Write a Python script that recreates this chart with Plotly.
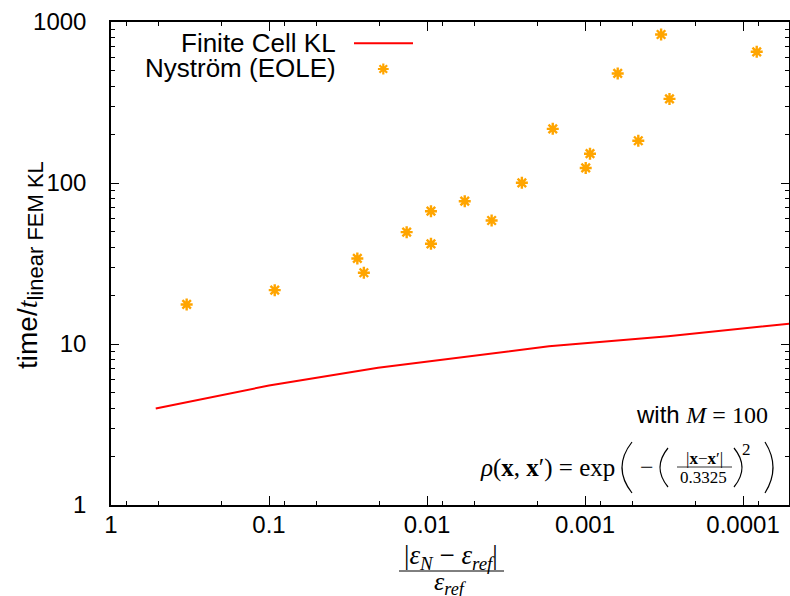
import plotly.graph_objects as go

# ---------------- data ----------------
nystrom_err = [0.332, 0.092, 0.0276, 0.0251, 0.01345, 0.00944, 0.00944, 0.00577, 0.0039,
               0.00251, 0.0016, 0.00099, 0.00093, 0.000621, 0.00046, 0.00033, 0.000292, 8.19e-5]
nystrom_time = [17.6, 21.6, 34.0, 27.7, 49.5, 66.8, 41.9, 77.1, 58.5,
                100.3, 217, 124, 152, 479, 183, 836, 333, 653]

fc_err = [0.521, 0.1, 0.0204, 0.00769, 0.00169, 0.000298, 0.000106, 4.0e-5]
fc_time = [3.98, 5.52, 7.11, 8.01, 9.69, 11.18, 12.43, 13.7]

x_tickvals = [1, 0.1, 0.01, 0.001, 0.0001]
x_ticktext = ["1", "0.1", "0.01", "0.001", "0.0001"]
y_tickvals = [1, 10, 100, 1000]
y_ticktext = ["1", "10", "100", "1000"]
x_minor = [m * 10.0 ** k for k in range(0, -6, -1) for m in (0.8, 0.5, 0.2)]
y_minor = [m * 10.0 ** k for k in range(0, 3) for m in range(2, 10)]

legend_names = ["Finite Cell KL", "Nyström (EOLE)"]

# ---------------- geometry helpers (layout only) ----------------
W, H = 790, 596
L, R, T, B = 111, 1, 22, 91
PW, PH = W - L - R, H - T - B


def px(x):
    return (x - L) / PW


def py(y):
    return (H - B - y) / PH


SANS = "Liberation Sans"
SERIF = "Liberation Serif"
ORANGE = "#FFA500"

fig = go.Figure()

fig.add_trace(go.Scatter(
    x=fc_err, y=fc_time, mode="lines", name=legend_names[0],
    line=dict(color="#FF0000", width=2), showlegend=False))

fig.add_trace(go.Scatter(
    x=nystrom_err, y=nystrom_time, mode="markers", name=legend_names[1],
    marker=dict(symbol="asterisk-open", size=10, color=ORANGE,
                line=dict(color=ORANGE, width=2.4)), showlegend=False))

# legend key marker on an invisible overlay axis
fig.add_trace(go.Scatter(
    x=[px(383.3)], y=[py(69)], xaxis="x2", yaxis="y2", mode="markers",
    marker=dict(symbol="asterisk-open", size=9, color=ORANGE,
                line=dict(color=ORANGE, width=2.2)),
    showlegend=False, hoverinfo="skip"))

axis_common = dict(
    type="log", showgrid=False, zeroline=False, showline=True,
    linecolor="black", linewidth=1.5, mirror="allticks",
    ticks="inside", tickcolor="black", tickwidth=1,
    tickfont=dict(family=SANS, size=24, color="black"),
)

fig.update_layout(
    width=W, height=H,
    margin=dict(l=L, r=R, t=T, b=B, autoexpand=False),
    paper_bgcolor="white", plot_bgcolor="white",
    showlegend=False,
    xaxis=dict(axis_common, range=[0, -4.291], tickmode="array",
               tickvals=x_tickvals, ticktext=x_ticktext, ticklen=9,
               ticklabelstandoff=-3,
               minor=dict(tickmode="array", tickvals=x_minor, ticks="inside",
                          ticklen=4, tickcolor="black", tickwidth=1, showgrid=False)),
    yaxis=dict(axis_common, range=[0, 3], tickmode="array",
               tickvals=y_tickvals, ticktext=y_ticktext, ticklen=8,
               ticklabelstandoff=18,
               minor=dict(tickmode="array", tickvals=y_minor, ticks="inside",
                          ticklen=4, tickcolor="black", tickwidth=1, showgrid=False)),
    xaxis2=dict(overlaying="x", range=[0, 1], visible=False, fixedrange=True),
    yaxis2=dict(overlaying="y", range=[0, 1], visible=False, fixedrange=True),
)

ann = []


def text(x, y, s, size, family=SANS, xanchor="center", yanchor="middle", angle=0):
    ann.append(dict(x=px(x), y=py(y), xref="paper", yref="paper", text=s,
                    showarrow=False, xanchor=xanchor, yanchor=yanchor,
                    textangle=angle, font=dict(family=family, size=size, color="black")))


# legend texts
text(338, 43, legend_names[0], 26, xanchor="right")
text(338, 68, legend_names[1], 26, xanchor="right")

# y axis title
text(30, 265, f"time/<span style='font-family:{SERIF}'><i>t</i></span>"
              f"<sub><span style='font-size:22px'>linear FEM KL</span></sub>",
     28, angle=-90)

# x axis title (fraction)
text(451, 557, "|<i>ε</i><sub><i>N</i></sub> − <i>ε</i><sub><i>ref</i></sub>|", 27, family=SERIF)
text(450, 583, "<i>ε</i><sub><i>ref</i></sub>", 26, family=SERIF)

# annotations in plot
text(770, 414, f"with <span style='font-family:{SERIF}'><i>M</i> = 100</span>", 24, xanchor="right")
text(617, 468, "<i>ρ</i>(<b>x</b>, <b>x</b>′) = exp", 25, family=SERIF, xanchor="right")
text(646.5, 467, "−", 24, family=SERIF)
text(704.5, 458, "|<b>x</b>−<b>x</b>′|", 17, family=SERIF)
text(703.5, 477, "0.3325", 17, family=SERIF)
text(746, 449, "2", 17, family=SERIF)

shapes = []


def seg(x0, y0, x1, y1, w=1.0, color="black"):
    shapes.append(dict(type="line", xref="paper", yref="paper",
                       x0=px(x0), y0=py(y0), x1=px(x1), y1=py(y1),
                       line=dict(color=color, width=w)))


def curve(x0, y0, cx, cy, x1, y1, w=1.2):
    path = f"M {px(x0)},{py(y0)} Q {px(cx)},{py(cy)} {px(x1)},{py(y1)}"
    shapes.append(dict(type="path", xref="paper", yref="paper", path=path,
                       line=dict(color="black", width=w)))


# legend key line
seg(354, 43.3, 413, 43.3, 2, "#FF0000")

# x-title fraction bar
seg(399, 571, 504, 571, 1)
# formula fraction bar and parentheses
seg(677, 467, 732, 467, 0.8)
curve(632, 442, 612, 467.5, 632, 493)
curve(765, 442, 781, 467.5, 765, 493)
curve(668, 448, 652, 467.5, 668, 487)
curve(734, 448, 750, 467.5, 734, 487)

fig.update_layout(annotations=ann, shapes=shapes)

fig.write_html("out.html", config={"displayModeBar": False},
               post_script="document.body.style.margin='0px';")
